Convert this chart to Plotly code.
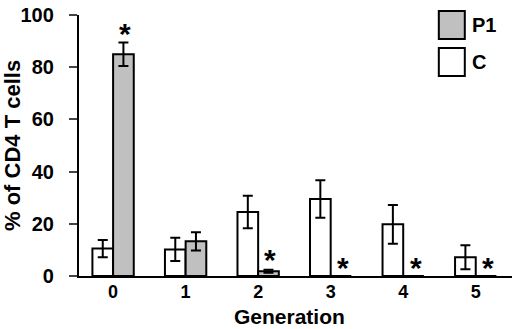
import plotly.graph_objects as go

generations = [0, 1, 2, 3, 4, 5]
c_values = [10.5, 10.2, 24.5, 29.5, 19.8, 7.2]
c_errors = [3.3, 4.5, 6.2, 7.2, 7.4, 4.6]
p1_values = [85.0, 13.3, 1.8, 0, 0, 0]
p1_errors = [4.5, 3.5, 0.6, 0, 0, 0]
star_values = [95.5, None, 9, 6, 6, 6]
tick_labels = ["0", "1", "2", "3", "4", "5"]
y_ticks = [0, 20, 40, 60, 80, 100]

FONT = "Liberation Sans, Arial, sans-serif"
NB = "\u00a0"

fig = go.Figure()
fig.add_trace(go.Bar(
    x=generations, y=c_values, name="C",
    marker=dict(color="white", line=dict(color="black", width=2)),
    error_y=dict(type="data", array=c_errors, color="black", thickness=2, width=5),
))
fig.add_trace(go.Bar(
    x=generations, y=p1_values, name="P1",
    marker=dict(color="#c0c0c0", line=dict(color="black", width=2)),
    error_y=dict(type="data", array=p1_errors, color="black", thickness=2, width=5),
))

annotations = []
for g, s in zip(generations, star_values):
    if s is None:
        continue
    annotations.append(dict(x=g + 0.17, y=s, xref="x", yref="y", text="<b>*</b>",
                            showarrow=False, font=dict(size=30, color="black", family=FONT),
                            yanchor="middle", yshift=-7))

# legend drawn as boxes + labels
legend_items = [("P1", "#c0c0c0", 1.015, 0.908), ("C", "white", 0.874, 0.766)]
shapes = []
for label, color, ytop, ybot in legend_items:
    shapes.append(dict(type="rect", xref="paper", yref="paper",
                       x0=0.831, x1=0.891, y0=ybot, y1=ytop,
                       fillcolor=color, line=dict(color="black", width=2)))
    annotations.append(dict(x=0.903, y=(ytop + ybot) / 2, xref="paper", yref="paper",
                            text=f"<b>{label}</b>", showarrow=False, xanchor="left",
                            yanchor="middle", font=dict(size=20, color="black", family=FONT)))

# axis titles
annotations.append(dict(x=-0.1536, y=0.5, xref="paper", yref="paper",
                        text="<b>% of CD4 T cells</b>", textangle=-90, showarrow=False,
                        xanchor="center", yanchor="middle",
                        font=dict(size=22, color="black", family=FONT)))
annotations.append(dict(x=0.487, y=-0.157, xref="paper", yref="paper",
                        text="<b>Generation</b>", showarrow=False,
                        xanchor="center", yanchor="middle",
                        font=dict(size=21, color="black", family=FONT)))

fig.update_layout(
    width=520, height=329,
    margin=dict(l=79, r=8, t=15, b=53),
    plot_bgcolor="white", paper_bgcolor="white",
    barmode="group", bargap=0.43, bargroupgap=0,
    showlegend=False,
    font=dict(family=FONT, color="black"),
    annotations=annotations, shapes=shapes,
    xaxis=dict(
        range=[-0.47, 5.5], tickmode="array", tickvals=generations,
        ticktext=[f"<b>{t}</b>" for t in tick_labels],
        showline=True, linecolor="black", linewidth=2, ticks="",
        showgrid=False, zeroline=False, automargin=False,
        tickfont=dict(size=18, family=FONT), ticklabelstandoff=-2,
    ),
    yaxis=dict(
        range=[0, 100], tickmode="array", tickvals=y_ticks,
        ticktext=[f"<b>{v}</b>{NB}{NB}" for v in y_ticks],
        showline=True, linecolor="black", linewidth=2, ticks="outside", ticklen=8, tickwidth=2,
        showgrid=False, zeroline=False, automargin=False,
        tickfont=dict(size=20, family=FONT),
    ),
)

fig.write_html("out.html", config={"displayModeBar": False},
               post_script="document.body.style.margin='0';document.body.style.overflow='hidden';")
